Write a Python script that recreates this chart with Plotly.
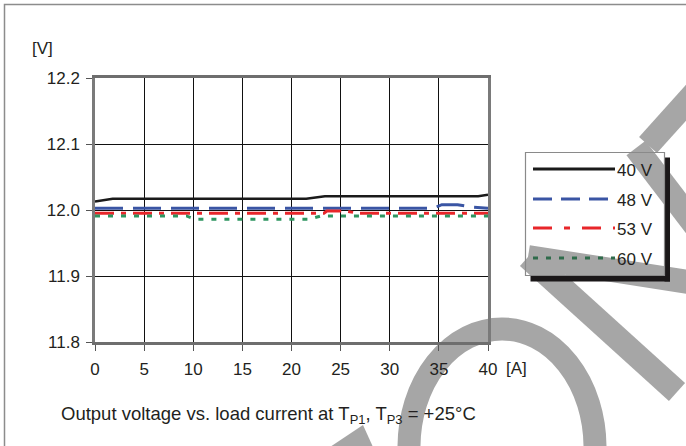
import plotly.graph_objects as go

# ---- data ----
series_names = ["40 V", "48 V", "53 V", "60 V"]
x_40 = [0, 1.8, 21.5, 23.4, 39, 40]
y_40 = [12.013, 12.017, 12.017, 12.021, 12.021, 12.023]
x_48 = [0, 34.4, 35.3, 36.9, 38.3, 40]
y_48 = [12.0025, 12.0025, 12.008, 12.008, 12.0045, 12.0025]
x_53 = [0, 23.3, 23.6, 25.5, 26.8, 40]
y_53 = [11.995, 11.995, 11.9985, 11.9985, 11.995, 11.995]
x_60 = [0, 9.3, 10.2, 21.8, 23.0, 40]
y_60 = [11.991, 11.991, 11.986, 11.986, 11.991, 11.991]
x_ticks = [0, 5, 10, 15, 20, 25, 30, 35, 40]
y_ticks = [11.8, 11.9, 12.0, 12.1, 12.2]

# ---- styles ----
colors = ["#1a1a1a", "#3a55a4", "#e8262a", "#2e9560"]
legend_colors = ["#1a1a1a", "#3a55a4", "#e8262a", "#2f6b4b"]
dashes = ["solid", "28px,10px", "19px,7px,5px,7px", "5px,8px"]
legend_dashes = ["solid", "19px,9px", "19px,12px,6px,12px", "5px,8px"]
widths = [2.5, 3, 3, 3]
TXT = "#231f20"
FONT = "Liberation Sans, Arial, sans-serif"
W, H = 686, 446
L, R, T, B = 95, 488, 78, 342  # plot area in pixels


def px(x):
    return (x - L) / (R - L)


def py(y):
    return (B - y) / (B - T)


xs = [x_40, x_48, x_53, x_60]
ys = [y_40, y_48, y_53, y_60]

fig = go.Figure()
for name, x, y, c, d, w in zip(series_names, xs, ys, colors, dashes, widths):
    fig.add_trace(go.Scatter(x=x, y=y, mode="lines", name=name,
                             line=dict(color=c, dash=d, width=w),
                             showlegend=False, hoverinfo="skip"))

shapes = []
WM = "#a6a6a6"
# watermark (decorative, below)
shapes.append(dict(type="circle", xref="paper", yref="paper",
                   x0=px(502 - 93), x1=px(502 + 93), y0=py(447 + 118), y1=py(447 - 118),
                   line=dict(color=WM, width=23), layer="below"))
for (a, b) in [((648, 145), (720, 65)), ((636, 148), (720, 258)),
               ((528, 257), (720, 287)), ((528, 257), (677, 392))]:
    shapes.append(dict(type="line", xref="paper", yref="paper",
                       x0=px(a[0]), y0=py(a[1]), x1=px(b[0]), y1=py(b[1]),
                       line=dict(color=WM, width=24), layer="below"))
shapes.append(dict(type="path", xref="paper", yref="paper",
                   path="M {} {} L {} {} L {} {} Z".format(px(330), py(447), px(363), py(425), px(373), py(447)),
                   fillcolor=WM, line=dict(width=0), layer="below"))
# outer frame of the picture
shapes.append(dict(type="rect", xref="paper", yref="paper", x0=px(4.5), x1=px(720), y0=py(4.5), y1=py(480),
                   fillcolor="rgba(0,0,0,0)", line=dict(color="#8c8c8c", width=1.5), layer="above"))

# legend box with shadow
lx0, lx1, ly0, ly1 = 525.5, 664.5, 152.5, 275.5
shapes.append(dict(type="rect", xref="paper", yref="paper", x0=px(lx1), x1=px(lx1 + 5.5),
                   y0=py(ly0 + 5), y1=py(ly1 + 6), fillcolor="#1a1718", line=dict(width=0), layer="above"))
shapes.append(dict(type="rect", xref="paper", yref="paper", x0=px(lx0 + 5), x1=px(lx1 + 5.5),
                   y0=py(ly1), y1=py(ly1 + 6), fillcolor="#1a1718", line=dict(width=0), layer="above"))
shapes.append(dict(type="rect", xref="paper", yref="paper", x0=px(lx0), x1=px(lx1),
                   y0=py(ly0), y1=py(ly1), fillcolor="rgba(0,0,0,0)",
                   line=dict(color="#8a8a8a", width=1.2), layer="above"))
annotations = []
row_y = [169, 199, 228, 258]
for name, c, d, ry in zip(series_names, legend_colors, legend_dashes, row_y):
    shapes.append(dict(type="line", xref="paper", yref="paper", x0=px(533), x1=px(615),
                       y0=py(ry), y1=py(ry), line=dict(color=c, dash=d, width=3), layer="above"))
    annotations.append(dict(x=px(615), y=py(ry + 1), xref="paper", yref="paper", text=name,
                            showarrow=False, xanchor="left", yanchor="middle",
                            font=dict(size=17, color=TXT, family=FONT)))

annotations.append(dict(x=px(30), y=py(48), xref="paper", yref="paper", text="[V]",
                        showarrow=False, xanchor="left", yanchor="middle",
                        font=dict(size=17, color=TXT, family=FONT)))
annotations.append(dict(x=px(504), y=py(368), xref="paper", yref="paper", text="[A]",
                        showarrow=False, xanchor="left", yanchor="middle",
                        font=dict(size=17, color=TXT, family=FONT)))
annotations.append(dict(x=px(59), y=py(415), xref="paper", yref="paper",
                        text="Output voltage vs. load current at T<sub>P1</sub>, T<sub>P3</sub> = +25°C",
                        showarrow=False, xanchor="left", yanchor="middle",
                        font=dict(size=18.5, color=TXT, family=FONT)))

fig.update_layout(
    width=W, height=H,
    margin=dict(l=L, r=W - R, t=T, b=H - B, pad=0),
    paper_bgcolor="white", plot_bgcolor="rgba(0,0,0,0)",
    font=dict(family=FONT, color=TXT, size=17),
    shapes=shapes, annotations=annotations, showlegend=False,
    hovermode=False,
)
fig.update_xaxes(range=[0, 40], tickvals=x_ticks, ticktext=[str(v) for v in x_ticks],
                 showgrid=True, gridcolor="#111111", gridwidth=1,
                 showline=True, linecolor="#6e6e6e", linewidth=2.5, mirror=True,
                 ticks="outside", ticklen=6, tickcolor="#555555", tickwidth=1,
                 ticklabelstandoff=4, zeroline=False,
                 tickfont=dict(size=17, color=TXT, family=FONT))
fig.update_yaxes(range=[11.8, 12.2], tickvals=y_ticks, ticktext=["%.1f" % v for v in y_ticks],
                 showgrid=True, gridcolor="#111111", gridwidth=1,
                 showline=True, linecolor="#7a7a7a", linewidth=2.5, mirror=True,
                 ticks="outside", ticklen=6, tickcolor="#555555", tickwidth=1,
                 ticklabelstandoff=3, zeroline=False,
                 tickfont=dict(size=17, color=TXT, family=FONT))

fig.write_html("out.html", config={"displayModeBar": False},
               post_script="document.body.style.margin='0px';")
